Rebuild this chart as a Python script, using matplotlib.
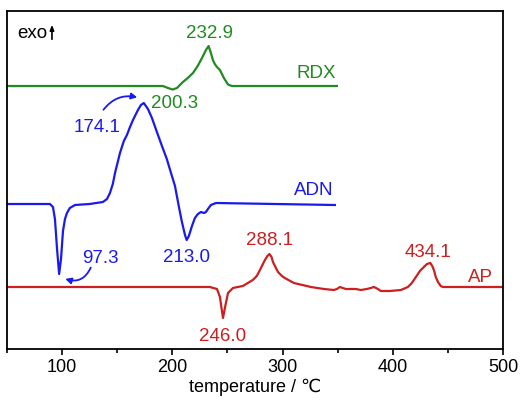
#!/usr/bin/env python3
import numpy as np
import matplotlib
matplotlib.use('Agg')
import matplotlib.pyplot as plt
from matplotlib.ticker import MultipleLocator

plt.rcParams['font.family'] = ['Liberation Sans', 'DejaVu Sans']

# DSC traces (signal in arbitrary units above each baseline)
rdx_t = [50, 191.5, 196, 200.3, 204.2, 209.6, 214, 218.7, 223, 226.9, 230.5, 232.9,
         235, 236.8, 238.5, 240.5, 243.2, 246.8, 250.5, 254, 349.3]
rdx_s = [0, 0, -2, -3.5, -2, 4, 8, 13, 20, 28, 36, 40,
         33, 26, 22, 19, 16, 8, 1.5, 0, 0]

adn_t = [50, 89, 91.7, 93.5, 95.4, 97.3, 99, 100.8, 102.6, 104.4, 107, 111.7, 125,
         137, 140.7, 143.4, 146, 148, 150.7, 152.5, 156, 158.8, 161.6, 164.3, 168.8,
         171.5, 174.1, 177.9, 181.5, 186, 190.6, 195, 198.8, 202.4, 206, 208.7,
         211.5, 213.0, 215, 217.8, 220.5, 223.2, 226, 228.7, 230.5, 232.3, 235,
         239.6, 347.5]
adn_s = [0, 0, -3, -15, -45, -70, -55, -27, -15, -9, -4, -1, 0,
         2, 5, 11, 20, 31, 43, 51, 63, 69, 77, 84, 94,
         99, 101, 95, 86, 72, 58, 45, 31, 18, -3, -18,
         -31, -36, -32, -22, -14, -10, -8, -9, -8, -5, -1,
         1, -1]

ap_t = [50, 234, 240.5, 243.2, 245, 246.0, 247.5, 250.5, 255, 264, 273, 276.6,
        279.5, 282.2, 284, 286.3, 288.1, 290, 291.3, 294, 295.9, 299.4, 302, 310.3,
        325.7, 337.5, 346.6, 349.3, 352, 354.6, 357.5, 366.5, 371, 376.5, 380, 383,
        386.5, 389.2, 397.3, 407.4, 413.7, 417.3, 421, 424.6, 428.2, 431, 434.1,
        435.8, 437.3, 439, 441, 443.5, 445.5, 500]
ap_s = [0, 0, -2, -10, -24, -31, -22, -6, -1, 1, 7, 11,
        17, 23, 27, 31, 33, 30, 25, 19, 15, 11, 9, 4,
        0, -2, -3, -2, 0, -1, -2, -2, -3, -2, -1, 0,
        -2, -4, -4, -3, 0, 4, 10, 16, 20, 23, 24,
        21, 17, 10, 5, 1, 0, 0]

offsets = {'RDX': 263, 'ADN': 145, 'AP': 62}
colors = {'RDX': '#1f8c1f', 'ADN': '#1a1aee', 'AP': '#cc1f1f'}

fig = plt.figure(figsize=(5.22, 4.05), dpi=100)
ax = fig.add_axes([0.0134, 0.1383, 0.9502, 0.8345])

for name, t, s in [('RDX', rdx_t, rdx_s), ('ADN', adn_t, adn_s), ('AP', ap_t, ap_s)]:
    ax.plot(t, np.array(s) + offsets[name], color=colors[name], lw=1.6)

fs = 13.5
# series labels
ax.text(348.4, 276, 'RDX', color=colors['RDX'], fontsize=fs, ha='right', va='center')
ax.text(346, 159, 'ADN', color=colors['ADN'], fontsize=fs, ha='right', va='center')
ax.text(480, 71, 'AP', color=colors['AP'], fontsize=fs, ha='center', va='center')

# peak labels
ax.text(234, 316, '232.9', color=colors['RDX'], fontsize=fs, ha='center', va='center')
ax.text(202.4, 246, '200.3', color=colors['RDX'], fontsize=fs, ha='center', va='center')
ax.text(131.6, 222, '174.1', color=colors['ADN'], fontsize=fs, ha='center', va='center')
ax.text(134.4, 90, '97.3', color=colors['ADN'], fontsize=fs, ha='center', va='center')
ax.text(213.3, 91, '213.0', color=colors['ADN'], fontsize=fs, ha='center', va='center')
ax.text(288.5, 108, '288.1', color=colors['AP'], fontsize=fs, ha='center', va='center')
ax.text(246, 12, '246.0', color=colors['AP'], fontsize=fs, ha='center', va='center')
ax.text(431.9, 96, '434.1', color=colors['AP'], fontsize=fs, ha='center', va='center')

# curved arrows to ADN peaks
ax.annotate('', xy=(170.6, 251), xytext=(136, 237),
            arrowprops=dict(arrowstyle='-|>,head_length=0.35,head_width=0.18',
                            color=colors['ADN'], lw=1.3,
                            connectionstyle='arc3,rad=-0.35'))
ax.annotate('', xy=(100.5, 71), xytext=(127, 84),
            arrowprops=dict(arrowstyle='-|>,head_length=0.35,head_width=0.18',
                            color=colors['ADN'], lw=1.3,
                            connectionstyle='arc3,rad=-0.5'))

# exo arrow
ax.text(59, 316, 'exo', fontsize=fs, ha='left', va='center')
ax.annotate('', xy=(90.8, 327), xytext=(90.8, 307),
            arrowprops=dict(arrowstyle='-|>,head_length=0.3,head_width=0.12',
                            color='black', lw=1.2))

ax.set_xlim(50, 500)
ax.set_ylim(0, 338)
ax.set_yticks([])
ax.xaxis.set_major_locator(MultipleLocator(100))
ax.xaxis.set_minor_locator(MultipleLocator(50))
ax.tick_params(axis='x', which='major', direction='out', length=4, width=1.2,
               labelsize=13, pad=3)
ax.tick_params(axis='x', which='minor', direction='out', length=3, width=1.2)
for sp in ax.spines.values():
    sp.set_linewidth(1.3)
ax.set_xlabel('temperature / ℃', fontsize=13, labelpad=2)

fig.savefig('out.png', dpi=100)
